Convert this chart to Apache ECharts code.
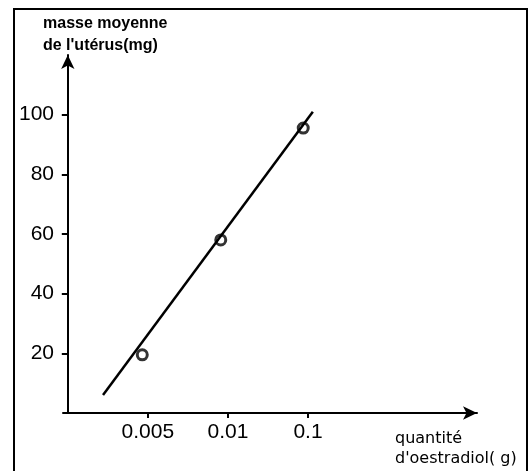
<!DOCTYPE html>
<html>
<head>
<meta charset="utf-8">
<script src="https://cdn.jsdelivr.net/npm/echarts@6/dist/echarts.min.js"></script>
<style>
  html, body { margin: 0; padding: 0; background: #fff; }
  #main { width: 532px; height: 471px; }
</style>
</head>
<body>
<div id="main"></div>
<script>
// positions des graduations sur l'axe x (échelle non linéaire du dessin)
const xTickPos = [1, 2, 3];
const xTickLabels = ['0.005', '0.01', '0.1'];
const yTicks = [20, 40, 60, 80, 100];

// points mesurés
const pointX = [0.93, 1.91, 2.94];
const pointY = [19.5, 58, 95.5];

// droite tracée à la main
const lineX = [0.44, 3.06];
const lineY = [6, 101];

let myChart = echarts.init(document.getElementById('main'));

let option = {
  backgroundColor: '#fff',
  animation: false,
  title: {
    text: "masse moyenne\nde l'utérus(mg)",
    left: 38,
    top: 8,
    textStyle: {
      fontFamily: 'Liberation Sans',
      fontSize: 16,
      fontWeight: 'bold',
      color: '#000',
      lineHeight: 22
    }
  },
  grid: { left: 63, right: 55, top: 55, bottom: 58, outerBoundsMode: 'none' },
  xAxis: {
    type: 'value',
    min: -0.06,
    max: 5.11,
    splitLine: { show: false },
    axisLine: {
      show: true,
      symbol: ['none', 'arrow'],
      symbolSize: [10, 14],
      lineStyle: { color: '#000', width: 2 }
    },
    axisTick: {
      show: true,
      customValues: xTickPos,
      length: 5,
      lineStyle: { color: '#000', width: 2 }
    },
    axisLabel: {
      customValues: xTickPos,
      margin: 9,
      fontFamily: 'Liberation Sans',
      fontSize: 21,
      color: '#000',
      formatter: function (v) {
        const i = xTickPos.indexOf(Math.round(v));
        return i >= 0 ? xTickLabels[i] : '';
      }
    }
  },
  yAxis: {
    type: 'value',
    min: 0,
    max: 120,
    splitLine: { show: false },
    axisLine: {
      show: true,
      symbol: ['none', 'arrow'],
      symbolSize: [10, 14],
      lineStyle: { color: '#000', width: 2 }
    },
    axisTick: {
      show: true,
      customValues: yTicks,
      length: 6,
      lineStyle: { color: '#000', width: 2 }
    },
    axisLabel: {
      customValues: yTicks,
      margin: 9,
      fontFamily: 'Liberation Sans',
      fontSize: 21,
      color: '#000'
    }
  },
  graphic: [
    {
      type: 'polyline',
      shape: { points: [[14, 471], [14, 9], [527, 9], [527, 471]] },
      style: { stroke: '#000', lineWidth: 2, fill: null }
    },
    {
      type: 'text',
      left: 395,
      top: 429,
      style: {
        text: "quantité\nd'oestradiol( g)",
        fontFamily: 'DejaVu Sans',
        fontSize: 16,
        lineHeight: 20,
        fill: '#000'
      }
    }
  ],
  series: [
    {
      type: 'line',
      data: lineX.map((x, i) => [x, lineY[i]]),
      showSymbol: false,
      lineStyle: { color: '#000', width: 2.5 }
    },
    {
      type: 'scatter',
      data: pointX.map((x, i) => [x, pointY[i]]),
      symbol: 'circle',
      symbolSize: 10,
      itemStyle: { color: '#fff', borderColor: '#000', borderWidth: 3 }
    }
  ]
};

myChart.setOption(option);
</script>
</body>
</html>
